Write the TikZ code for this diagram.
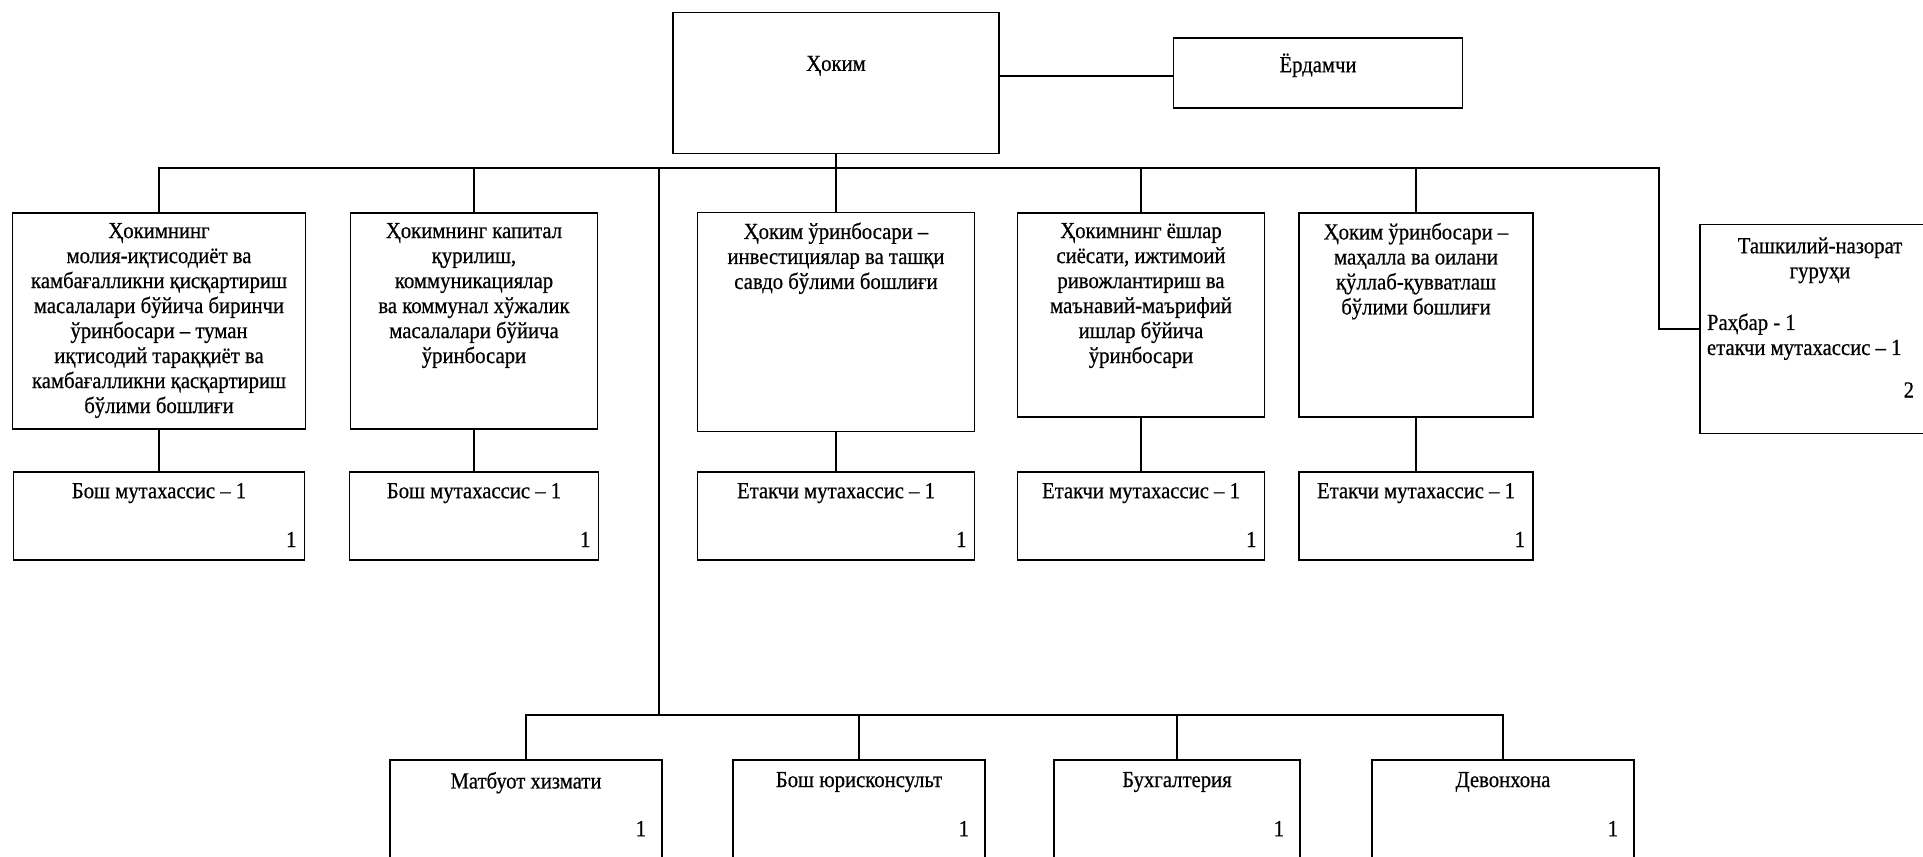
\documentclass[tikz,border=0pt]{standalone}
\usepackage{fontspec}
\setmainfont{Liberation Serif}[FakeStretch=0.9, FakeBold=0.6]
\usetikzlibrary{positioning}

\begin{document}
\begin{tikzpicture}[x=1pt, y=-1pt, line width=1.4pt,
    box/.style={draw, inner sep=0pt},
    txt/.style={align=center, inner sep=0pt, font=\fontsize{23}{25}\selectfont},
    num/.style={inner sep=0pt, font=\fontsize{23}{25}\selectfont}]
    \useasboundingbox (0,0) rectangle (1923,857);

    % Hokim and assistant
    \node[box, minimum width=326, minimum height=141] (hokim) at (836,83) {};
    \node[txt] at ([yshift=-54pt]hokim.north) {Ҳоким};
    \node[box, minimum width=289, minimum height=70] (yordam) at (1318,73) {};
    \node[txt] at ([yshift=-28pt]yordam.north) {Ёрдамчи};
    \draw (hokim.east |- 0,76) -- (yordam.west |- 0,76);

    % Deputies
    \node[box, minimum width=293, minimum height=216] (b1) at (159,321) {};
    \node[txt, below=10pt of b1.north] {Ҳокимнинг\\молия-иқтисодиёт ва\\камбағалликни қисқартириш\\масалалари бўйича биринчи\\ўринбосари – туман\\иқтисодий тараққиёт ва\\камбағалликни қасқартириш\\бўлими бошлиғи};
    \node[box, minimum width=247, minimum height=216] (b2) at (474,321) {};
    \node[txt, below=10pt of b2.north] {Ҳокимнинг капитал\\қурилиш,\\коммуникациялар\\ва коммунал хўжалик\\масалалари бўйича\\ўринбосари};
    \node[box, minimum width=277, minimum height=219] (b3) at (836,322) {};
    \node[txt, below=10pt of b3.north] {Ҳоким ўринбосари –\\инвестициялар ва ташқи\\савдо бўлими бошлиғи};
    \node[box, minimum width=247, minimum height=204] (b4) at (1141,315) {};
    \node[txt, below=10pt of b4.north] {Ҳокимнинг ёшлар\\сиёсати, ижтимоий\\ривожлантириш ва\\маънавий-маърифий\\ишлар бўйича\\ўринбосари};
    \node[box, minimum width=234, minimum height=204] (b5) at (1416,315) {};
    \node[txt, below=10pt of b5.north] {Ҳоким ўринбосари –\\маҳалла ва оилани\\қўллаб-қувватлаш\\бўлими бошлиғи};

    % Control group
    \node[box, minimum width=240, minimum height=209] (b6) at (1820,329) {};
    \node[txt, below=13pt of b6.north] {Ташкилий-назорат\\гуруҳи};
    \node[txt, align=left, anchor=north west] at ([xshift=7pt, yshift=-89pt]b6.north west) {Раҳбар - 1\\етакчи мутахассис – 1};
    \node[num, anchor=south east] at ([xshift=-26pt, yshift=36pt]b6.south east) {2};

    % Specialists under deputies
    \foreach \s/\b/\w/\t in {s1/b1/291/Бош мутахассис – 1, s2/b2/249/Бош мутахассис – 1,
        s3/b3/277/Етакчи мутахассис – 1, s4/b4/247/Етакчи мутахассис – 1, s5/b5/234/Етакчи мутахассис – 1} {
        \node[box, minimum width=\w, minimum height=88] (\s) at (\b.south |- 0,516) {};
        \node[txt, below=11pt of \s.north] {\t};
        \node[num, anchor=south east] at ([xshift=-8pt, yshift=13pt]\s.south east) {1};
        \draw (\b.south) -- (\s.north);
    }

    % Services
    \node[box, minimum width=272, minimum height=110] (l1) at (526,815) {};
    \node[box, minimum width=252, minimum height=110] (l2) at (859,815) {};
    \node[box, minimum width=246, minimum height=110] (l3) at (1177,815) {};
    \node[box, minimum width=262, minimum height=110] (l4) at (1503,815) {};
    \foreach \l/\t in {l1/Матбуот хизмати, l2/Бош юрисконсульт, l3/Бухгалтерия, l4/Девонхона} {
        \node[txt, below=12pt of \l.north] {\t};
        \node[num, anchor=north east] at ([xshift=-16pt, yshift=-61pt]\l.north east) {1};
    }

    % Main bus
    \coordinate (turn) at (1659,168);
    \coordinate (mid) at (659,168);
    \coordinate (lowbus) at (659,715);
    \draw (b1.north) |- (turn) |- (b6.west);
    \draw (hokim.south) -- (b3.north);
    \foreach \b in {b2,b4,b5}
        \draw (\b.north) -- (\b.north |- turn);

    % Lower bus
    \draw (mid) -- (lowbus);
    \draw (l1.north) -- (l1.north |- lowbus) -- (l4.north |- lowbus) -- (l4.north);
    \foreach \l in {l2,l3}
        \draw (\l.north) -- (\l.north |- lowbus);
\end{tikzpicture}
\end{document}
